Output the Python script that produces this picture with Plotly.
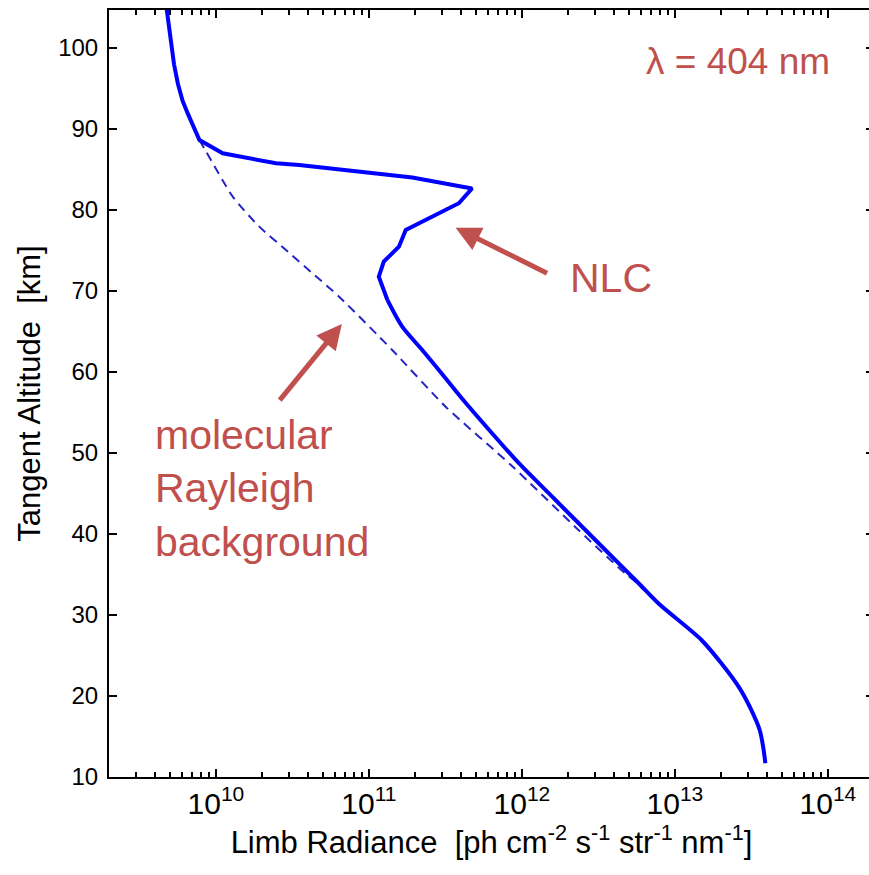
import math
import plotly.graph_objects as go

# Limb radiance profile with a noctilucent cloud (solid) and pure Rayleigh background (dashed)
alt_total = [105.0, 103.0, 100.5, 98.0, 95.6, 93.5, 91.9, 90.2, 88.65, 87.01, 85.77,
             85.56, 84.02, 82.67, 80.84, 77.54, 75.48, 73.63, 71.77, 68.90, 65.60,
             62.72, 59.88, 56.92, 52.54, 48.77, 45.07, 41.36, 37.66, 33.95, 31.45,
             26.92, 24.04, 20.95, 18.68, 15.80, 13.74, 11.69]
rad_total = [4.75e9, 4.92e9, 5.11e9, 5.32e9, 5.64e9, 6.05e9, 6.55e9, 7.13e9, 7.80e9,
             1.107e10, 2.47e10, 3.50e10, 1.92e11, 4.72e11, 3.87e11, 1.74e11, 1.57e11,
             1.25e11, 1.16e11, 1.32e11, 1.65e11, 2.23e11, 2.97e11, 3.98e11, 6.31e11,
             9.51e11, 1.49e12, 2.34e12, 3.67e12, 5.77e12, 7.78e12, 1.49e13, 2.01e13,
             2.65e13, 3.08e13, 3.58e13, 3.77e13, 3.90e13]

alt_rayleigh = [88.65, 87.21, 81.65, 77.95, 75.07, 72.19, 69.30, 62.72, 55.72, 48.40,
                40.50, 35.15, 33.95, 31.45, 26.92, 24.04, 20.95, 18.68, 15.80, 13.74,
                11.69]
rad_rayleigh = [7.80e9, 8.63e9, 1.288e10, 1.92e10, 2.87e10, 4.28e10, 6.38e10, 1.42e11,
                3.17e11, 8.61e11, 2.34e12, 4.72e12, 5.65e12, 7.75e12, 1.49e13, 2.01e13,
                2.65e13, 3.08e13, 3.58e13, 3.77e13, 3.90e13]

x_range = [2e9, 2e14]
y_range = [10, 104.7]
y_ticks = [10, 20, 30, 40, 50, 60, 70, 80, 90, 100]

RED = "#C0504D"
FONT = "Arial, Liberation Sans, Helvetica, sans-serif"

# the cloud layer keeps its sharp corners; the smooth lower profile is drawn as a spline
split = alt_total.index(68.90)

fig = go.Figure()
fig.add_trace(go.Scatter(x=rad_rayleigh, y=alt_rayleigh, mode="lines",
                         line=dict(color="#2424c8", width=2, dash="9px,6px", shape="spline",
                                   smoothing=0.6),
                         hoverinfo="skip"))
fig.add_trace(go.Scatter(x=rad_total[:split + 1], y=alt_total[:split + 1], mode="lines",
                         line=dict(color="#0000ff", width=4),
                         hoverinfo="skip"))
fig.add_trace(go.Scatter(x=rad_total[split:], y=alt_total[split:], mode="lines",
                         line=dict(color="#0000ff", width=4, shape="spline", smoothing=0.8),
                         hoverinfo="skip"))

fig.update_layout(
    width=877, height=875,
    margin=dict(l=109, r=1, t=10, b=98),
    paper_bgcolor="white", plot_bgcolor="white",
    showlegend=False,
    font=dict(family=FONT, color="black", size=24),
)

fig.update_xaxes(
    type="log", range=[math.log10(x_range[0]), math.log10(x_range[1])],
    dtick=1, exponentformat="power", showexponent="all",
    ticks="inside", ticklen=8, tickwidth=2, tickcolor="black",
    showline=True, linewidth=2, linecolor="black", mirror="ticks",
    showgrid=False, zeroline=False,
    minor=dict(ticks="inside", ticklen=5, tickwidth=1.5, tickcolor="black",
               dtick="D1", showgrid=False),
    tickfont=dict(size=24),
    title=dict(text="Limb Radiance \u00a0[ph cm<sup>-2</sup> s<sup>-1</sup> str<sup>-1</sup> nm<sup>-1</sup>]",
               font=dict(size=31), standoff=10),
)
fig.update_yaxes(
    range=y_range, tickvals=y_ticks,
    ticks="inside", ticklen=8, tickwidth=2, tickcolor="black",
    showline=True, linewidth=2, linecolor="black", mirror="ticks",
    showgrid=False, zeroline=False,
    tickfont=dict(size=24), ticklabelstandoff=4,
    title=dict(text="Tangent Altitude \u00a0[km]", font=dict(size=31), standoff=8),
)

# Labels
fig.add_annotation(xref="paper", yref="paper", x=0.8227, y=0.9335,
                   text="\u03bb = 404 nm", showarrow=False,
                   font=dict(size=37, color=RED, family=FONT),
                   xanchor="center", yanchor="middle")
fig.add_annotation(xref="paper", yref="paper", x=0.6558, y=0.6506,
                   text="NLC", showarrow=False,
                   font=dict(size=41, color=RED, family=FONT),
                   xanchor="center", yanchor="middle")
fig.add_annotation(xref="paper", yref="paper", x=0.057, y=0.3755,
                   text="molecular<br>Rayleigh<br>background", showarrow=False,
                   align="left",
                   font=dict(size=41, color=RED, family=FONT),
                   xanchor="left", yanchor="middle")

# Arrows (positions in log10 units on the log axis)
fig.add_annotation(x=11.566, y=77.82, ax=12.174, ay=72.11,
                   xref="x", yref="y", axref="x", ayref="y",
                   text="", showarrow=True, arrowhead=2, arrowsize=1,
                   arrowwidth=5, arrowcolor=RED)
fig.add_annotation(x=10.823, y=65.93, ax=10.409, ay=56.34,
                   xref="x", yref="y", axref="x", ayref="y",
                   text="", showarrow=True, arrowhead=2, arrowsize=1,
                   arrowwidth=5, arrowcolor=RED)

fig.write_html("out.html",
               post_script="document.documentElement.style.overflow='hidden';"
                           "document.body.style.overflow='hidden';")
